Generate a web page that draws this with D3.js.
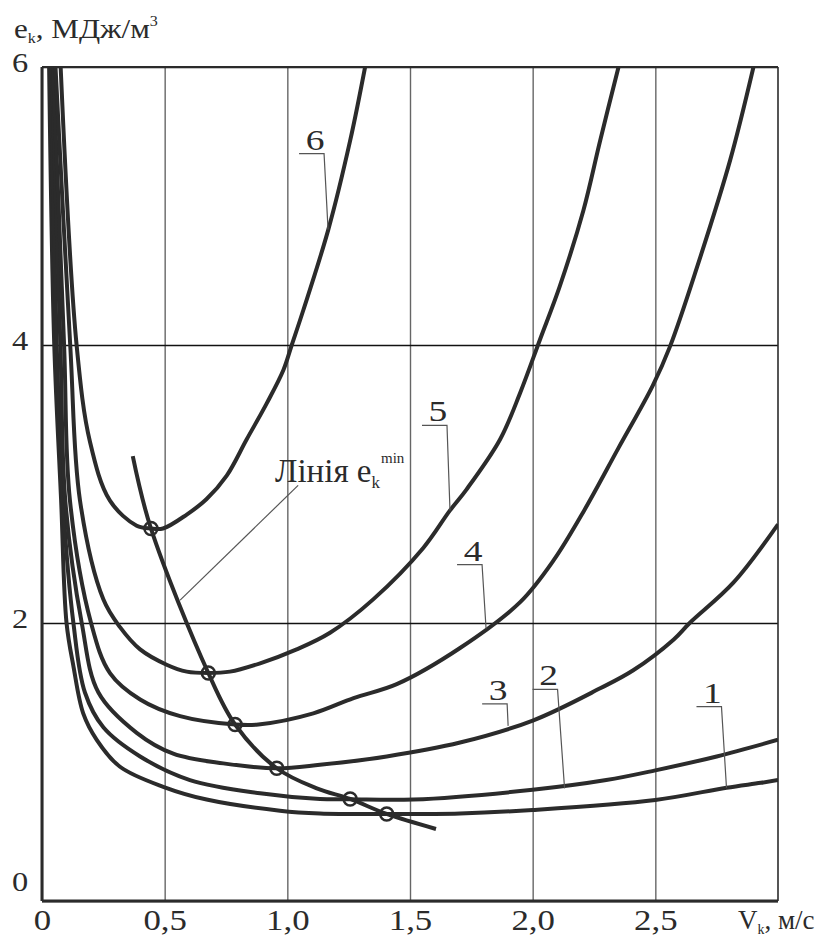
<!DOCTYPE html>
<html>
<head>
<meta charset="utf-8">
<script src="https://cdnjs.cloudflare.com/ajax/libs/d3/7.8.5/d3.min.js"></script>
<style>
  body { margin: 0; background: #fff; }
  text { font-family: "Liberation Serif", "Times New Roman", serif; fill: #2b2b2b; }
</style>
</head>
<body>
<svg id="chart" width="823" height="937"></svg>
<script>
// curves: [V_k, e_k]
const curve1 = [[0.029,6],[0.05,4],[0.078,2.88],[0.10,2.0],[0.128,1.69],[0.168,1.35],[0.223,1.16],[0.318,0.966],[0.497,0.82],[0.671,0.73],[0.97,0.65],[1.133,0.63],[1.405,0.626],[1.704,0.63],[2.0,0.655],[2.5,0.727],[2.79,0.815],[2.93,0.85],[3.0,0.87]];
const curve2 = [[0.035,6],[0.06,4],[0.085,2.88],[0.128,2.0],[0.175,1.5],[0.25,1.25],[0.40,1.04],[0.603,0.87],[0.889,0.775],[1.133,0.734],[1.256,0.732],[1.514,0.73],[2.0,0.80],[2.3,0.87],[2.5,0.94],[2.75,1.04],[3.0,1.16]];
const curve3 = [[0.04,6],[0.075,4],[0.095,2.88],[0.162,2.0],[0.23,1.5],[0.386,1.21],[0.535,1.06],[0.739,0.99],[0.957,0.955],[1.133,0.98],[1.405,1.04],[1.704,1.14],[2.003,1.30],[2.275,1.53],[2.41,1.66],[2.574,1.88],[2.64,2.0],[2.818,2.29],[3.0,2.71]];
const curve4 = [[0.045,6],[0.09,4],[0.114,2.88],[0.20,2.0],[0.277,1.64],[0.40,1.45],[0.563,1.33],[0.787,1.27],[0.882,1.27],[1.106,1.35],[1.27,1.46],[1.446,1.56],[1.704,1.82],[1.949,2.15],[2.085,2.45],[2.21,2.81],[2.35,3.26],[2.49,3.71],[2.56,3.99],[2.67,4.56],[2.805,5.33],[2.90,6.0]];
const curve5 = [[0.055,6],[0.115,4],[0.155,2.88],[0.25,2.17],[0.318,1.97],[0.40,1.81],[0.508,1.70],[0.59,1.65],[0.678,1.64],[0.766,1.65],[0.889,1.71],[1.038,1.81],[1.174,1.93],[1.35,2.17],[1.554,2.54],[1.663,2.81],[1.73,2.96],[1.867,3.32],[1.95,3.66],[2.03,4.04],[2.11,4.42],[2.207,4.97],[2.275,5.47],[2.35,6.0]];
const curve6 = [[0.076,6],[0.141,4],[0.196,3.3],[0.277,2.88],[0.386,2.70],[0.444,2.68],[0.493,2.68],[0.59,2.78],[0.67,2.89],[0.753,3.06],[0.834,3.32],[0.916,3.58],[0.984,3.82],[1.018,4.0],[1.065,4.25],[1.167,4.83],[1.256,5.47],[1.317,6.0]];
const minLine = [[0.37,3.2],[0.444,2.68],[0.678,1.64],[0.787,1.27],[0.957,0.955],[1.12,0.81],[1.256,0.734],[1.405,0.626],[1.606,0.518]];
const minPoints = [[0.444,2.68],[0.678,1.64],[0.787,1.27],[0.957,0.955],[1.256,0.734],[1.405,0.626]];

const xTicks = [0, 0.5, 1.0, 1.5, 2.0, 2.5];
const xTickLabels = ["0", "0,5", "1,0", "1,5", "2,0", "2,5"];
const yTicks = [0, 2, 4, 6];
const yTickLabels = ["0", "2", "4", "6"];

// curve number labels: name and the point on the curve where the leader ends
const curveNames = ["1", "2", "3", "4", "5", "6"];
const leaderEnds = [[2.79,0.815],[2.13,0.81],[1.90,1.26],[1.81,1.96],[1.663,2.81],[1.166,4.83]];

const W = 823, H = 937;
const margin = { left: 42, right: 45, top: 67, bottom: 36 };
const plotW = W - margin.left - margin.right;
const plotH = H - margin.top - margin.bottom;
const ink = "#2b2b2b";

const svg = d3.select("#chart");
const g = svg.append("g").attr("transform", `translate(${margin.left},${margin.top})`);

const x = d3.scaleLinear().domain([0, 3]).range([0, plotW]);
const y = d3.scaleLinear().domain([0, 6]).range([plotH, 0]);

svg.append("defs").append("clipPath").attr("id", "plot")
  .append("rect").attr("x", 0).attr("y", 0).attr("width", plotW).attr("height", plotH);

// vertical grid + x labels
const xAxis = g.append("g")
  .attr("transform", `translate(0,${plotH})`)
  .call(d3.axisBottom(x).tickValues(xTicks).tickSize(-plotH).tickFormat((d, i) => xTickLabels[i]));
xAxis.select(".domain").remove();
xAxis.selectAll(".tick line").attr("stroke", "#666").attr("stroke-width", 1.4);
xAxis.selectAll(".tick text")
  .attr("font-size", 29).attr("fill", ink)
  .attr("y", 0).attr("dy", 0)
  .attr("transform", "translate(0,29) scale(1.2,1)");

// horizontal grid + y labels
const yAxis = g.append("g")
  .call(d3.axisLeft(y).tickValues(yTicks).tickSize(-plotW).tickFormat((d, i) => yTickLabels[i]));
yAxis.select(".domain").remove();
yAxis.selectAll(".tick line").attr("stroke", "#111").attr("stroke-width", 1.3);
yAxis.selectAll(".tick text")
  .attr("font-size", 27).attr("fill", ink).attr("text-anchor", "middle")
  .attr("x", 0).attr("dy", 0)
  .attr("transform", d => d === 0 ? "translate(-22,-11) scale(1.2,1)" : "translate(-22,4) scale(1.2,1)");

// frame
g.append("line").attr("x1", 0).attr("x2", plotW).attr("y1", 0).attr("y2", 0).attr("stroke", ink).attr("stroke-width", 2);
g.append("line").attr("x1", plotW).attr("x2", plotW).attr("y1", 0).attr("y2", plotH).attr("stroke", ink).attr("stroke-width", 1.6);
g.append("line").attr("x1", 0).attr("x2", 0).attr("y1", 0).attr("y2", plotH).attr("stroke", ink).attr("stroke-width", 3);
g.append("line").attr("x1", 0).attr("x2", plotW).attr("y1", plotH).attr("y2", plotH).attr("stroke", ink).attr("stroke-width", 3);

// curves
const line = d3.line().x(d => x(d[0])).y(d => y(d[1])).curve(d3.curveCatmullRom.alpha(0.5));
const curves = g.append("g").attr("clip-path", "url(#plot)");
[curve1, curve2, curve3, curve4, curve5, curve6].forEach(c => {
  curves.append("path").attr("d", line(c))
    .attr("fill", "none").attr("stroke", ink).attr("stroke-width", 4).attr("stroke-linejoin", "round");
});

// line of minimum
curves.append("path").attr("d", line(minLine))
  .attr("fill", "none").attr("stroke", ink).attr("stroke-width", 4);
g.selectAll(".minpt").data(minPoints).enter().append("circle")
  .attr("cx", d => x(d[0])).attr("cy", d => y(d[1])).attr("r", 6.5)
  .attr("fill", "none").attr("stroke", ink).attr("stroke-width", 2.5);

// curve labels with leader lines
const barOffset = [[-30, -81], [-32, -99], [-26, -22], [-29, -64], [-28, -85], [-29, -76]];
curveNames.forEach((name, i) => {
  const ex = x(leaderEnds[i][0]), ey = y(leaderEnds[i][1]);
  const bx2 = ex + barOffset[i][0] + 25, by = ey + barOffset[i][1];
  const bx1 = bx2 - 25;
  g.append("polyline")
    .attr("points", `${bx1},${by} ${bx2},${by} ${ex},${ey}`)
    .attr("fill", "none").attr("stroke", "#555").attr("stroke-width", 1.2);
  g.append("text").text(name)
    .attr("font-size", 30).attr("text-anchor", "middle")
    .attr("transform", `translate(${bx2 - 9},${by - 4}) scale(1.25,1)`);
});

// label for line of minimum
const minLabelEnd = [0.563, 2.165], minLabelStart = [1.044, 2.99];
g.append("line")
  .attr("x1", x(minLabelStart[0])).attr("y1", y(minLabelStart[1]))
  .attr("x2", x(minLabelEnd[0])).attr("y2", y(minLabelEnd[1]))
  .attr("stroke", "#555").attr("stroke-width", 1.2);
const ml = g.append("text").attr("x", 233).attr("y", 415).attr("font-size", 33);
ml.append("tspan").text("Лінія e");
ml.append("tspan").text("k").attr("font-size", 17).attr("dy", 6);
ml.append("tspan").text("min").attr("font-size", 15).attr("dy", -25).attr("dx", 1);

// axis titles
const yt = svg.append("text").attr("font-size", 27).attr("transform", "translate(14,38) scale(1.15,1)");
yt.append("tspan").text("e");
yt.append("tspan").text("k").attr("font-size", 14).attr("dy", 5);
yt.append("tspan").text(", МДж/м").attr("dy", -5);
yt.append("tspan").text("3").attr("font-size", 14).attr("dy", -12);

const xt = svg.append("text").attr("font-size", 27).attr("transform", "translate(738,929)");
xt.append("tspan").text("V");
xt.append("tspan").text("k").attr("font-size", 14).attr("dy", 5);
xt.append("tspan").text(", м/с").attr("dy", -5);
</script>
</body>
</html>
